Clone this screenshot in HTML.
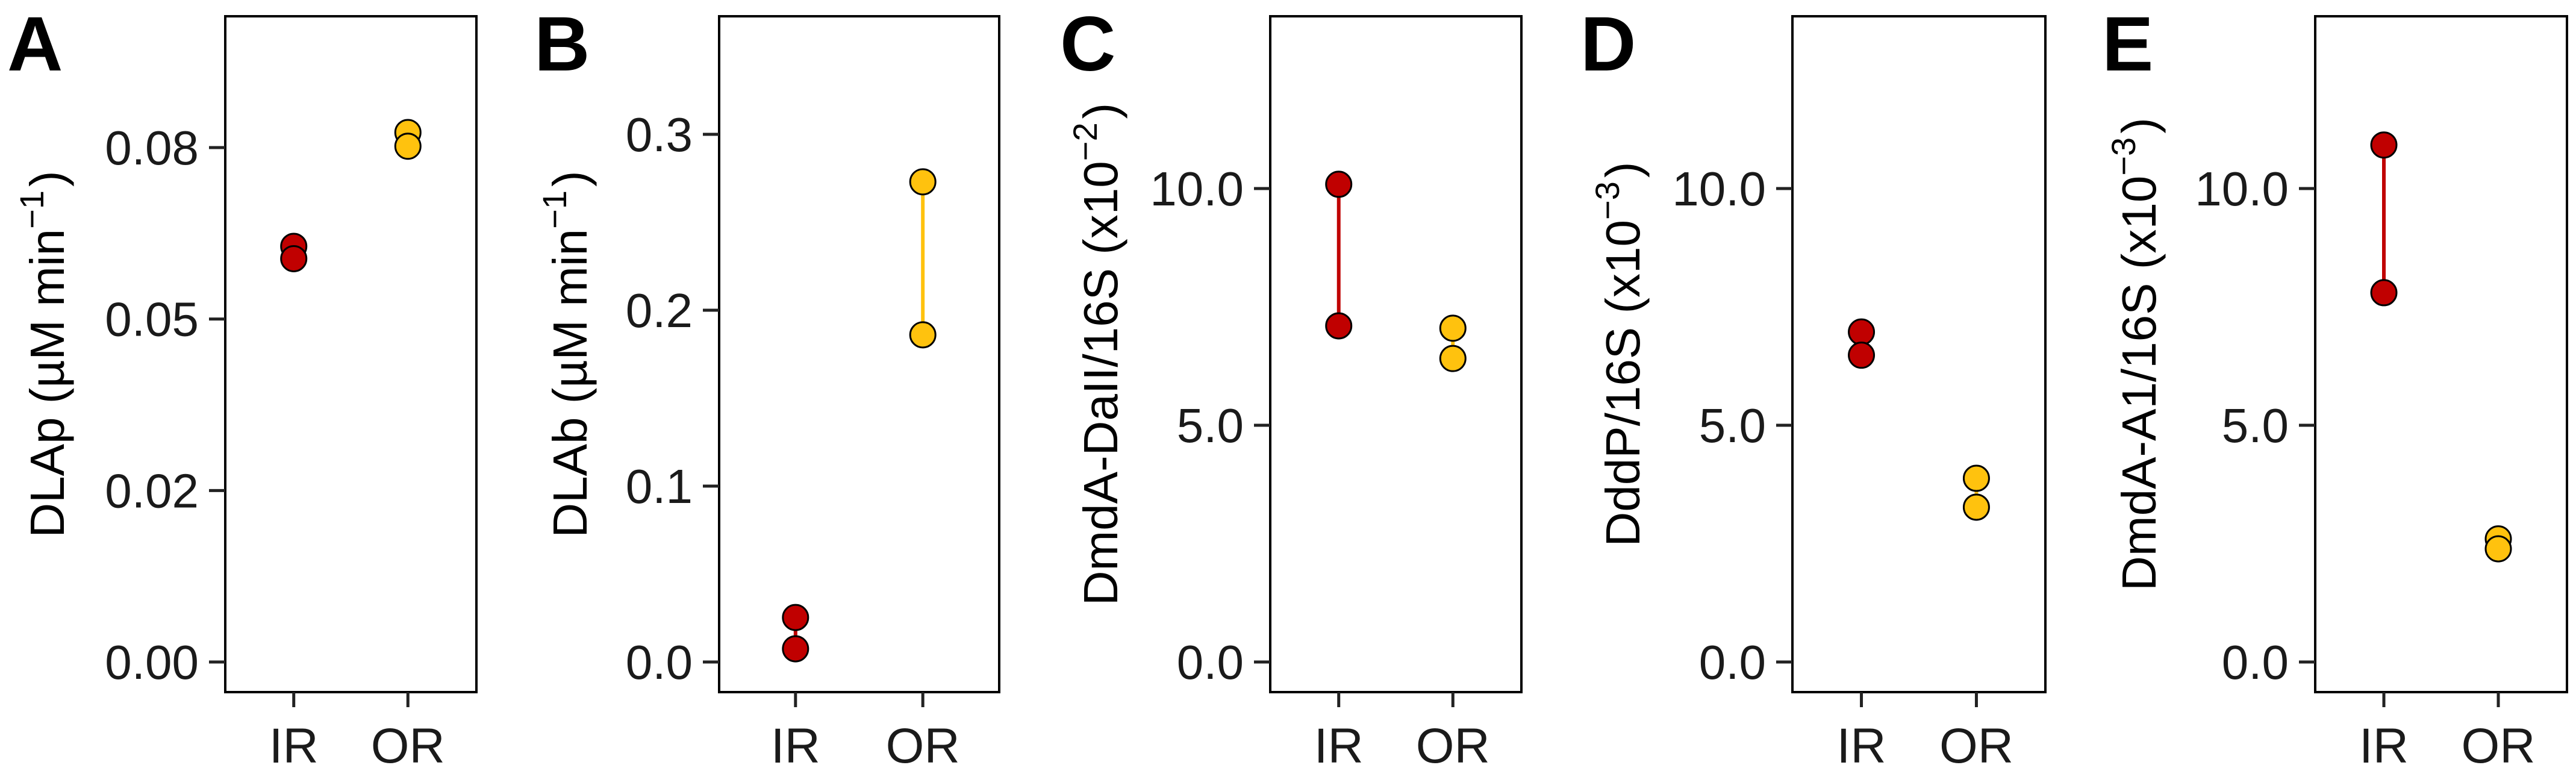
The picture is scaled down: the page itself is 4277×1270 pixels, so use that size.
<!DOCTYPE html>
<html><head><meta charset="utf-8"><style>
html,body{margin:0;padding:0;background:#fff;}
svg{display:block;font-family:"Liberation Sans",Arial,sans-serif;}
</style></head><body>
<svg id="fig" width="4277" height="1270" viewBox="0 0 4277 1270" xmlns="http://www.w3.org/2000/svg"></svg>
<script>
const categories = ["IR", "OR"];
const panelLetters = ["A", "B", "C", "D", "E"];
const valsA_IR = [0.0606, 0.0588];
const valsA_OR = [0.0772, 0.0752];
const valsB_IR = [0.0253, 0.0075];
const valsB_OR = [0.273, 0.186];
const valsC_IR = [10.09, 7.10];
const valsC_OR = [7.05, 6.41];
const valsD_IR = [6.97, 6.48];
const valsD_OR = [3.88, 3.27];
const valsE_IR = [10.92, 7.80];
const valsE_OR = [2.60, 2.39];
const ticksA = [0, 0.025, 0.05, 0.075];
const tickLabelsA = ["0.00", "0.02", "0.05", "0.08"];
const ticksB = [0, 0.1, 0.2, 0.3];
const tickLabelsB = ["0.0", "0.1", "0.2", "0.3"];
const ticksCDE = [0, 5, 10];
const tickLabelsCDE = ["0.0", "5.0", "10.0"];

const NS = "http://www.w3.org/2000/svg";
const svg = document.getElementById("fig");
function mk(tag, attrs, parent) {
  const e = document.createElementNS(NS, tag);
  for (const k in attrs) e.setAttribute(k, attrs[k]);
  (parent || svg).appendChild(e);
  return e;
}
const TOP = 27, BOT = 1149;
const colors = ["#C00000", "#FFC20E"];
const panels = [
  {L:374, R:791, ir:valsA_IR, or:valsA_OR, ticks:ticksA, labels:tickLabelsA, y0:0, y1:0.075, py0:1099, py1:245, title:"DLAp (µM min", sup:"−1", tail:")", letterX:12, titleGap:268, name:"a"},
  {L:1194, R:1659, ir:valsB_IR, or:valsB_OR, ticks:ticksB, labels:tickLabelsB, y0:0, y1:0.3, py0:1099, py1:223, title:"DLAb (µM min", sup:"−1", tail:")", letterX:887, titleGap:220, name:"b"},
  {L:2109, R:2526, ir:valsC_IR, or:valsC_OR, ticks:ticksCDE, labels:tickLabelsCDE, y0:0, y1:10, py0:1099, py1:313, title:"DmdA-DaII/16S (x10", sup:"−2", tail:")", letterX:1760, titleGap:254, name:"c"},
  {L:2976, R:3396, ir:valsD_IR, or:valsD_OR, ticks:ticksCDE, labels:tickLabelsCDE, y0:0, y1:10, py0:1099, py1:313, title:"DddP/16S (x10", sup:"−3", tail:")", letterX:2624, titleGap:254, name:"d"},
  {L:3844, R:4262, ir:valsE_IR, or:valsE_OR, ticks:ticksCDE, labels:tickLabelsCDE, y0:0, y1:10, py0:1099, py1:313, title:"DmdA-A1/16S (x10", sup:"−3", tail:")", letterX:3490, titleGap:265, name:"e"}
];
panels.forEach((p, pi) => {
  const g = mk("g", {});
  
  
  const yS = v => p.py0 + (v - p.y0) * (p.py1 - p.py0) / (p.y1 - p.y0);
  const xS = i => p.L + (p.R - p.L) * (0.6 + i) / 2.2;
  const letter = mk("text", {x:p.letterX, y:117, "font-size":128, "font-weight":"bold", fill:"#000"}, g);
  letter.textContent = panelLetters[pi];
  
  
  const box = mk("rect", {x:p.L, y:TOP, width:p.R - p.L, height:BOT - TOP, fill:"none", stroke:"#000", "stroke-width":4}, g);
  
  
  p.ticks.forEach((t, ti) => {
    const y = yS(t);
    const tk = mk("line", {x1:p.L - 27, x2:p.L, y1:y, y2:y, stroke:"#222", "stroke-width":5}, g);
    
    
    const tl = mk("text", {x:p.L - 44, y:y + 28, "font-size":80, "text-anchor":"end", fill:"#1a1a1a"}, g);
    tl.textContent = p.labels[ti];
    
    
  });
  categories.forEach((c, ci) => {
    const x = xS(ci);
    const tk = mk("line", {x1:x, x2:x, y1:BOT, y2:BOT + 25, stroke:"#222", "stroke-width":5}, g);
    
    
    const tl = mk("text", {x:x, y:1266, "font-size":82, "text-anchor":"middle", fill:"#1a1a1a"}, g);
    tl.textContent = c;
    
    
  });
  const tx = p.L - p.titleGap, ty = (TOP + BOT) / 2;
  const title = mk("text", {x:0, y:0, "font-size":80, "text-anchor":"middle", fill:"#000", transform:"translate(" + tx + "," + ty + ") rotate(-90)"}, g);
  
  
  const t1 = mk("tspan", {}, title); t1.textContent = p.title;
  const t2 = mk("tspan", {dy:-34, "font-size":56}, title); t2.textContent = p.sup;
  const t3 = mk("tspan", {dy:34, dx:6}, title); t3.textContent = p.tail;
  [p.ir, p.or].forEach((vals, ci) => {
    const x = xS(ci);
    const ln = mk("line", {x1:x, x2:x, y1:yS(vals[0]), y2:yS(vals[1]), stroke:colors[ci], "stroke-width":6}, g);
    
    
  });
  [p.ir, p.or].forEach((vals, ci) => {
    const x = xS(ci);
    vals.forEach(v => {
      const pt = mk("circle", {cx:x, cy:yS(v), r:21, fill:colors[ci], stroke:"#000", "stroke-width":3}, g);
      
      
    });
  });
});
</script>
</body></html>
